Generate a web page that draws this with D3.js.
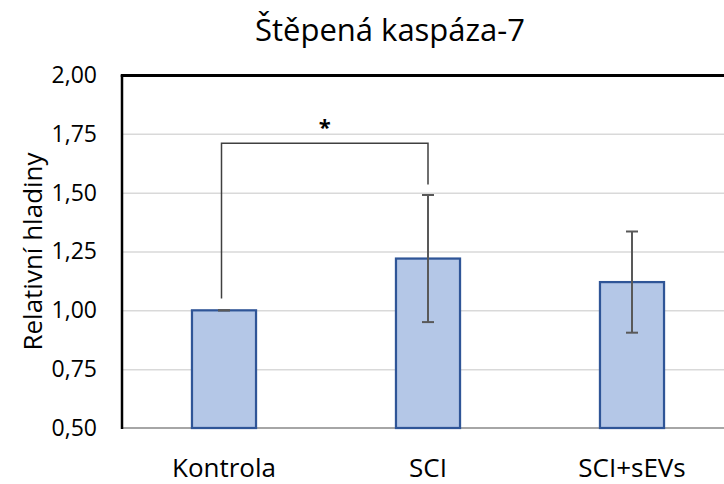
<!DOCTYPE html>
<html>
<head>
<meta charset="utf-8">
<title>Štěpená kaspáza-7</title>
<style>
  body { margin: 0; background: #fff; }
  svg { display: block; font-family: "Open Sans", "Noto Sans", sans-serif; }
</style>
</head>
<body>
<script src="https://cdnjs.cloudflare.com/ajax/libs/d3/7.8.5/d3.min.js"></script>
<script>
// data
var categories = ["Kontrola", "SCI", "SCI+sEVs"];
var means = [1.00, 1.22, 1.12];
var errors = [0.00, 0.27, 0.215];
var yTicks = [0.50, 0.75, 1.00, 1.25, 1.50, 1.75, 2.00];
// significance bracket: from, to, height, leg ends, label
var sigPairs = [{from: "Kontrola", to: "SCI", y: 1.71, leftEnd: 1.05, rightEnd: 1.535, label: "*"}];

var W = 724, H = 484;
var plot = {left: 122, right: 734, top: 75, bottom: 428};

var svg = d3.select("body").append("svg")
    .attr("width", W)
    .attr("height", H);

var x = d3.scaleBand()
    .domain(categories)
    .range([plot.left, plot.right])
    .paddingInner(0.686)
    .paddingOuter(0.343);

var y = d3.scaleLinear()
    .domain([0.5, 2.0])
    .range([plot.bottom, plot.top]);

var czech = d3.formatLocale({decimal: ",", thousands: " ", grouping: [3], currency: ["", " Kč"]});
var fmt = czech.format(".2f");

// gridlines
svg.append("g")
    .attr("class", "grid")
    .attr("transform", "translate(" + plot.left + ",0)")
    .call(d3.axisLeft(y).tickValues(yTicks.slice(1, -1)).tickSize(-(W - plot.left)).tickFormat(""))
    .call(function(g) {
        g.select(".domain").remove();
        g.selectAll("line").attr("stroke", "#d9d9d9").attr("stroke-width", 1.5);
    });

// y axis labels
svg.append("g")
    .attr("transform", "translate(" + plot.left + ",0)")
    .call(d3.axisLeft(y).tickValues(yTicks).tickSize(0).tickPadding(25).tickFormat(fmt))
    .call(function(g) {
        g.select(".domain").remove();
        g.selectAll("text")
            .attr("fill", "#000")
            .style("font-family", "'Open Sans', sans-serif")
            .style("font-size", "23px");
    });

// bottom axis line (grey)
svg.append("line")
    .attr("x1", plot.left).attr("x2", W)
    .attr("y1", plot.bottom).attr("y2", plot.bottom)
    .attr("stroke", "#a6a6a6")
    .attr("stroke-width", 2);

// bars
svg.selectAll(".bar")
    .data(categories)
    .enter().append("rect")
    .attr("class", "bar")
    .attr("x", function(d) { return x(d); })
    .attr("width", x.bandwidth())
    .attr("y", function(d, i) { return y(means[i]); })
    .attr("height", function(d, i) { return y(0.5) - y(means[i]); })
    .attr("fill", "#b4c7e7")
    .attr("stroke", "#2f5597")
    .attr("stroke-width", 2.25);

// error bars
var eb = svg.selectAll(".err")
    .data(categories)
    .enter().append("g")
    .attr("class", "err")
    .attr("stroke", "#595959")
    .attr("stroke-width", 2);

eb.append("line")
    .attr("x1", function(d) { return x(d) + x.bandwidth() / 2; })
    .attr("x2", function(d) { return x(d) + x.bandwidth() / 2; })
    .attr("y1", function(d, i) { return y(means[i] - errors[i]); })
    .attr("y2", function(d, i) { return y(means[i] + errors[i]); });

[-1, 1].forEach(function(s) {
    eb.append("line")
        .attr("x1", function(d) { return x(d) + x.bandwidth() / 2 - 6; })
        .attr("x2", function(d) { return x(d) + x.bandwidth() / 2 + 6; })
        .attr("y1", function(d, i) { return y(means[i] + s * errors[i]); })
        .attr("y2", function(d, i) { return y(means[i] + s * errors[i]); });
});

// left and top frame lines (black)
svg.append("line")
    .attr("x1", plot.left).attr("x2", plot.left)
    .attr("y1", plot.top).attr("y2", plot.bottom + 1)
    .attr("stroke", "#000")
    .attr("stroke-width", 2.5);

svg.append("line")
    .attr("x1", plot.left - 1.25).attr("x2", W)
    .attr("y1", plot.top + 0.5).attr("y2", plot.top + 0.5)
    .attr("stroke", "#000")
    .attr("stroke-width", 3);

// significance bracket
sigPairs.forEach(function(p) {
    var xl = x(p.from) + x.bandwidth() / 2 - 2.5,
        xr = x(p.to) + x.bandwidth() / 2;
    svg.append("path")
        .attr("d", d3.line()([[xl, y(p.leftEnd)], [xl, y(p.y)], [xr, y(p.y)], [xr, y(p.rightEnd)]]))
        .attr("fill", "none")
        .attr("stroke", "#404040")
        .attr("stroke-width", 1.5);
    svg.append("text")
        .attr("x", (xl + xr) / 2)
        .attr("y", y(p.y) - 8)
        .attr("text-anchor", "middle")
        .style("font-size", "22px")
        .style("font-weight", "bold")
        .text(p.label);
});

// category labels
svg.selectAll(".cat")
    .data(categories)
    .enter().append("text")
    .attr("class", "cat")
    .attr("x", function(d) { return x(d) + x.bandwidth() / 2; })
    .attr("y", 477)
    .attr("text-anchor", "middle")
    .style("font-size", "26px")
    .text(function(d) { return d; });

// y axis title
svg.append("text")
    .attr("transform", "translate(42," + (plot.top + plot.bottom) / 2 + ") rotate(-90)")
    .attr("text-anchor", "middle")
    .style("font-size", "26px")
    .text("Relativní hladiny");

// chart title
svg.append("text")
    .attr("x", 390)
    .attr("y", 41)
    .attr("text-anchor", "middle")
    .style("font-size", "31px")
    .text("Štěpená kaspáza-7");
</script>
</body>
</html>
